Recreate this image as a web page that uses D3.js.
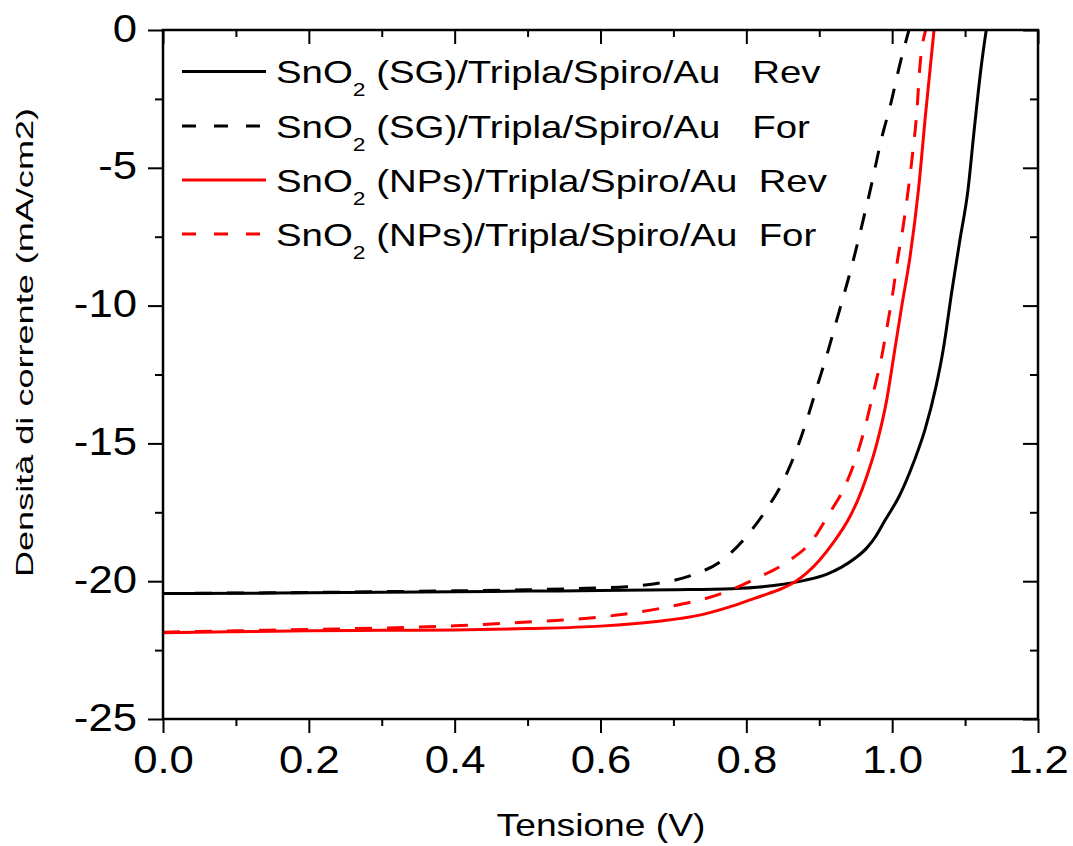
<!DOCTYPE html>
<html>
<head>
<meta charset="utf-8">
<script src="https://cdn.jsdelivr.net/npm/d3@7"></script>
<style>
  html, body { margin: 0; padding: 0; background: #fff; }
  svg { display: block; font-family: "Liberation Sans", Arial, sans-serif; }
  text { white-space: pre; }
</style>
</head>
<body>
<svg id="chart" width="1073" height="846"></svg>
<script>
// ---------- data ----------
const sgRevV = [0, 0.1, 0.2, 0.3, 0.4, 0.5, 0.6, 0.7, 0.78, 0.84, 0.88, 0.91, 0.93, 0.95, 0.965, 0.978, 0.99, 1.01, 1.03, 1.045, 1.06, 1.07, 1.082, 1.093, 1.104, 1.112, 1.122, 1.129];
const sgRevJ = [-20.45, -20.44, -20.42, -20.4, -20.38, -20.36, -20.34, -20.31, -20.27, -20.15, -19.97, -19.75, -19.5, -19.15, -18.8, -18.35, -17.8, -16.9, -15.65, -14.5, -12.95, -11.6, -9.45, -7.6, -5.8, -3.75, -1.35, 0];

const sgForV = [0, 0.1, 0.2, 0.3, 0.4, 0.5, 0.58, 0.636, 0.682, 0.727, 0.768, 0.8, 0.83, 0.849, 0.867, 0.883, 0.897, 0.912, 0.924, 0.933, 0.945, 0.958, 0.97, 0.986, 0.997, 1.011, 1.023];
const sgForJ = [-20.45, -20.43, -20.41, -20.38, -20.35, -20.31, -20.26, -20.2, -20.06, -19.77, -19.22, -18.38, -17.3, -16.45, -15.36, -14.15, -12.94, -11.65, -10.52, -9.68, -8.53, -7.14, -5.8, -3.88, -2.79, -1.2, 0];

const npRevV = [0, 0.1, 0.2, 0.3, 0.4, 0.5, 0.6, 0.68, 0.736, 0.775, 0.805, 0.83, 0.85, 0.868, 0.883, 0.9, 0.919, 0.942, 0.953, 0.965, 0.979, 0.9925, 1.003, 1.013, 1.0245, 1.036, 1.046, 1.0574];
const npRevJ = [-21.87, -21.83, -21.8, -21.78, -21.77, -21.72, -21.63, -21.45, -21.23, -20.95, -20.68, -20.45, -20.25, -20.0, -19.7, -19.25, -18.61, -17.66, -17.05, -16.21, -15.0, -13.43, -11.7, -10.04, -8.23, -5.81, -3.0, 0];

const npForV = [0, 0.1, 0.2, 0.3, 0.4, 0.5, 0.6, 0.691, 0.768, 0.815, 0.856, 0.891, 0.9124, 0.935, 0.951, 0.963, 0.974, 0.986, 0.993, 1.0015, 1.007, 1.015, 1.022, 1.027, 1.034, 1.038, 1.046];
const npForJ = [-21.85, -21.8, -21.75, -21.7, -21.62, -21.48, -21.3, -20.94, -20.43, -19.88, -19.3, -18.5, -17.6, -16.57, -15.48, -14.39, -13.18, -11.8, -10.77, -9.43, -8.41, -7.14, -5.81, -4.72, -2.9, -1.34, 0];

const seriesNames = ["(SG)/Tripla/Spiro/Au   Rev", "(SG)/Tripla/Spiro/Au   For", "(NPs)/Tripla/Spiro/Au  Rev", "(NPs)/Tripla/Spiro/Au  For"];
const seriesColors = ["#000000", "#000000", "#ff0000", "#ff0000"];
const seriesDashed = [false, true, false, true];

const xTicks = [0, 0.2, 0.4, 0.6, 0.8, 1.0, 1.2];
const xTickLabels = ["0.0", "0.2", "0.4", "0.6", "0.8", "1.0", "1.2"];
const xMinor = [0.1, 0.3, 0.5, 0.7, 0.9, 1.1];
const yTicks = [-25, -20, -15, -10, -5, 0];
const yTickLabels = ["-25", "-20", "-15", "-10", "-5", "0"];
const yMinor = [-22.5, -17.5, -12.5, -7.5, -2.5];
const xTitle = "Tensione (V)";
const yTitle = "Densità di corrente (mA/cm2)";

// ---------- chart ----------
const L = 163, R = 1038, T = 30, B = 719;
const svg = d3.select("#chart");
svg.append("rect").attr("width", 1073).attr("height", 846).attr("fill", "#fff");

const x = d3.scaleLinear().domain([0, 1.2]).range([L, R]);
const y = d3.scaleLinear().domain([-25, 0]).range([B, T]);

function styleAxis(g) {
  g.select(".domain").remove();
  g.selectAll(".tick line").attr("stroke", "#000").attr("stroke-width", 2);
}

// minor ticks
svg.append("g").attr("transform", `translate(0,${B})`)
  .call(d3.axisBottom(x).tickValues(xMinor).tickSize(7).tickFormat(""))
  .call(styleAxis);
svg.append("g").attr("transform", `translate(0,${T})`)
  .call(d3.axisTop(x).tickValues(xMinor).tickSize(-7).tickFormat(""))
  .call(styleAxis);
svg.append("g").attr("transform", `translate(${L},0)`)
  .call(d3.axisLeft(y).tickValues(yMinor).tickSize(8).tickFormat(""))
  .call(styleAxis);
svg.append("g").attr("transform", `translate(${R},0)`)
  .call(d3.axisRight(y).tickValues(yMinor).tickSize(-8).tickFormat(""))
  .call(styleAxis);

// major ticks
const xb = svg.append("g").attr("transform", `translate(0,${B})`)
  .call(d3.axisBottom(x).tickValues(xTicks).tickSize(14).tickFormat((d, i) => xTickLabels[i]))
  .call(styleAxis);
xb.selectAll(".tick text")
  .attr("y", 54).attr("dy", null)
  .attr("font-size", 38).attr("fill", "#000")
  .attr("font-family", "Liberation Sans, Arial, sans-serif")
  .attr("transform", "scale(1.15,1)");

svg.append("g").attr("transform", `translate(0,${T})`)
  .call(d3.axisTop(x).tickValues(xTicks).tickSize(-14).tickFormat(""))
  .call(styleAxis);

const yl = svg.append("g").attr("transform", `translate(${L},0)`)
  .call(d3.axisLeft(y).tickValues(yTicks).tickSize(15).tickFormat((d, i) => yTickLabels[i]))
  .call(styleAxis);
yl.selectAll(".tick text")
  .attr("x", 0).attr("dy", "0.32em")
  .attr("font-size", 38).attr("fill", "#000")
  .attr("font-family", "Liberation Sans, Arial, sans-serif")
  .attr("transform", "translate(-26,-1) scale(1.15,1)");

svg.append("g").attr("transform", `translate(${R},0)`)
  .call(d3.axisRight(y).tickValues(yTicks).tickSize(-15).tickFormat(""))
  .call(styleAxis);

// curves
const datasets = [
  sgRevV.map((v, i) => [v, sgRevJ[i]]),
  sgForV.map((v, i) => [v, sgForJ[i]]),
  npRevV.map((v, i) => [v, npRevJ[i]]),
  npForV.map((v, i) => [v, npForJ[i]])
];
const line = d3.line().x(d => x(d[0])).y(d => y(d[1])).curve(d3.curveMonotoneX);
datasets.forEach((data, i) => {
  svg.append("path").datum(data)
    .attr("d", line)
    .attr("fill", "none")
    .attr("stroke", seriesColors[i])
    .attr("stroke-width", 3)
    .attr("stroke-dasharray", seriesDashed[i] ? "17,15" : null);
});

// frame
svg.append("rect").attr("x", L).attr("y", T).attr("width", R - L).attr("height", B - T)
  .attr("fill", "none").attr("stroke", "#000").attr("stroke-width", 2.5);

// legend
const legY = [71.5, 126, 180, 234];
seriesNames.forEach((name, i) => {
  const g = svg.append("g");
  g.append("line")
    .attr("x1", 182).attr("x2", 266).attr("y1", legY[i]).attr("y2", legY[i])
    .attr("stroke", seriesColors[i]).attr("stroke-width", 3)
    .attr("stroke-dasharray", seriesDashed[i] ? "14,18" : null);
  const t = g.append("text")
    .attr("transform", `translate(276,${legY[i] + 11.5}) scale(1.2,1)`)
    .attr("font-size", 32).attr("fill", "#000");
  t.append("tspan").text("SnO");
  t.append("tspan").text("2").attr("font-size", 19).attr("dy", 13);
  t.append("tspan").text(" " + name).attr("dy", -13);
});

// axis titles
svg.append("text")
  .attr("transform", "translate(601,836) scale(1.2,1)")
  .attr("text-anchor", "middle").attr("font-size", 31).attr("fill", "#000")
  .text(xTitle);

svg.append("text")
  .attr("transform", "translate(33,342.5) rotate(-90)")
  .attr("text-anchor", "middle").attr("font-size", 24).attr("fill", "#000")
  .attr("textLength", 469).attr("lengthAdjust", "spacingAndGlyphs")
  .text(yTitle);
</script>
</body>
</html>
